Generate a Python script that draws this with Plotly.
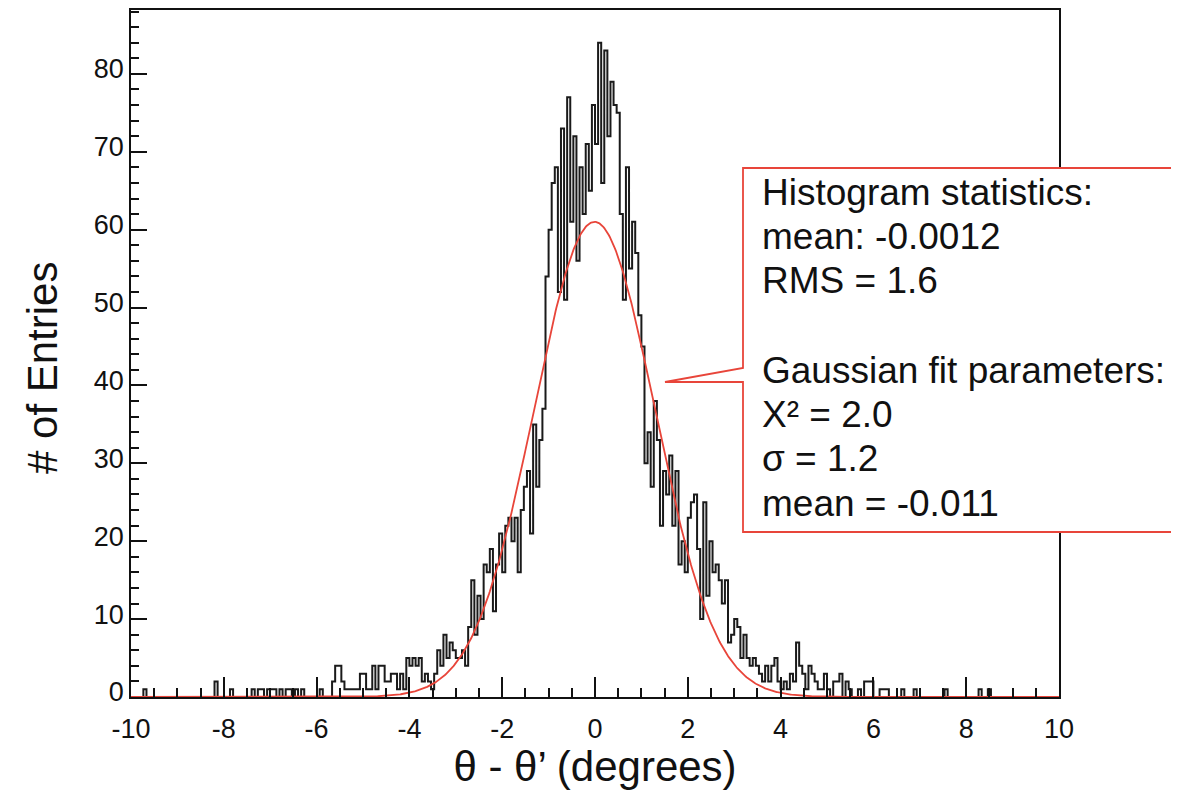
import numpy as np
import plotly.graph_objects as go

# ---------------- data ----------------
x_min, x_max, n_bins = -10.0, 10.0, 300

# bins 85 .. 222 (central part of the histogram)
core_start = 85
core_counts = [
    3, 1, 3, 1, 5, 4, 5, 4, 5, 2, 3, 2, 1, 3, 6, 4, 8, 5, 7, 6,          # 85-104
    5, 5, 6, 4, 9, 15, 8, 13, 10, 17, 16, 19, 11, 17, 21, 16, 22, 23, 20, 23,  # 105-124
    16, 24, 27, 29, 21, 35, 27, 33, 37, 54, 60, 66, 68, 52, 73, 51, 77, 61, 72, 56,  # 125-144
    68, 62, 71, 65, 76, 71, 84, 66, 83, 72, 79, 76, 75, 62, 51, 68, 55, 61, 57, 49,  # 145-164
    45, 30, 34, 27, 38, 33, 22, 29, 26, 31, 22, 29, 17, 20, 16, 23, 25, 26, 19, 10,  # 165-184
    25, 13, 20, 16, 17, 15, 12, 15, 7, 8, 10, 9, 5, 8, 5, 4, 5, 4, 3, 2,  # 185-204
    4, 2, 4, 5, 2, 1, 2, 1, 3, 2, 7, 4, 3, 1, 4, 3, 2, 1,                # 205-222
]

# sparse tails
tail_bins = [4, 27, 32, 39, 41, 42, 44, 45, 46, 48, 50, 51, 53, 55, 61,
             65, 66, 67, 68, 69, 70, 71, 72, 73, 74, 75, 76, 77, 78, 79,
             80, 81, 82, 83, 84,
             223, 224, 225, 227, 228, 229, 231, 232, 235, 237, 238, 239,
             242, 243, 244, 249, 253, 263, 274, 277]
tail_counts = [1, 2, 1, 1, 1, 1, 1, 1, 1, 1, 1, 1, 1, 1, 1,
               2, 4, 4, 2, 1, 1, 1, 1, 1, 3, 3, 1, 1, 4, 1,
               4, 4, 2, 2, 3,
               1, 3, 1, 2, 2, 3, 2, 1, 1, 2, 2, 2,
               1, 1, 1, 1, 1, 1, 1, 1]

# Gaussian fit (as drawn)
fit_amplitude = 61.0
fit_mean = -0.011
fit_sigma = 1.3

x_tick_vals = [-10, -8, -6, -4, -2, 0, 2, 4, 6, 8, 10]
x_tick_text = ["-10", "-8", "-6", "-4", "-2", "0", "2", "4", "6", "8", "10"]
y_tick_vals = [0, 10, 20, 30, 40, 50, 60, 70, 80]
y_tick_text = ["0", "10", "20", "30", "40", "50", "60", "70", "80"]

box_lines = [
    "Histogram statistics:",
    "mean: -0.0012",
    "RMS = 1.6",
    "",
    "Gaussian fit parameters:",
    "X² = 2.0",
    "σ = 1.2",
    "mean = -0.011",
]

x_title = "θ - θ’ (degrees)"
y_title = "# of Entries"

# ---------------- build ----------------
counts = np.zeros(n_bins)
counts[core_start:core_start + len(core_counts)] = core_counts
counts[tail_bins] = tail_counts
edges = np.linspace(x_min, x_max, n_bins + 1)

xf = np.linspace(x_min, x_max, 1201)
yf = fit_amplitude * np.exp(-0.5 * ((xf - fit_mean) / fit_sigma) ** 2)

RED = "#e8453a"
FONT = "Arial, Liberation Sans, sans-serif"

fig = go.Figure()
fig.add_trace(go.Scatter(x=edges, y=np.append(counts, counts[-1]), mode="lines",
                         line=dict(shape="hv", color="#1a1a1a", width=2),
                         hoverinfo="skip", showlegend=False))
fig.add_trace(go.Scatter(x=xf, y=yf, mode="lines",
                         line=dict(color=RED, width=1.8),
                         hoverinfo="skip", showlegend=False))

# page body has an 8px margin, so the figure is drawn 8px smaller / offset
OFF = 8
W, H = 1179 - OFF, 790 - OFF
ml, mt = 131 - OFF, 10 - OFF
mr = 1179 - 1059
mb = 790 - 697
pw, ph = W - ml - mr, H - mt - mb


def px(xp):  # reference-pixel x -> paper
    return (xp - 131) / pw


def py(yp):  # reference-pixel y -> paper
    return (697 - yp) / ph


# callout box
bx0, bx1, by0, by1 = px(743), px(1177), py(532), py(168)
tipx, tipy = px(665), py(382)
base_hi = py(368)
path = (f"M {bx0} {by1} L {bx1} {by1} L {bx1} {by0} L {bx0} {by0} "
        f"L {bx0} {tipy} L {tipx} {tipy} L {bx0} {base_hi} Z")
fig.add_shape(type="path", path=path, xref="paper", yref="paper",
              line=dict(color=RED, width=1.8), fillcolor="white", layer="above")

line_y0, line_dy = 192, 44.5
for i, t in enumerate(box_lines):
    if not t:
        continue
    fig.add_annotation(text=t, xref="paper", yref="paper", x=px(760),
                       y=py(line_y0 + i * line_dy), xanchor="left", yanchor="middle",
                       showarrow=False, font=dict(family=FONT, size=37, color="#111"))

# y-axis title (placed like the reference, slightly below the middle)
fig.add_annotation(text=y_title, xref="paper", yref="paper", x=px(42), y=py(368),
                   xanchor="center", yanchor="middle", textangle=-90, showarrow=False,
                   font=dict(family=FONT, size=42, color="#111"))

axis_common = dict(showline=True, linecolor="#111", linewidth=1.5, mirror=True,
                   ticks="inside", tickcolor="#111", tickwidth=1.5,
                   showgrid=False, zeroline=False,
                   tickfont=dict(family=FONT, size=27, color="#111"))

fig.update_xaxes(range=[x_min, x_max], tickmode="array", tickvals=x_tick_vals,
                 ticktext=x_tick_text, ticklen=20, ticklabelstandoff=7,
                 minor=dict(dtick=0.5, ticklen=9, tickcolor="#111", tickwidth=1.5, ticks="inside"),
                 title=dict(text=x_title, font=dict(family=FONT, size=42, color="#111"), standoff=8),
                 **axis_common)
fig.update_yaxes(range=[0, 88.2], tickmode="array", tickvals=y_tick_vals,
                 ticktext=y_tick_text, ticklen=16, ticklabelshift=-5,
                 minor=dict(dtick=2, ticklen=8, tickcolor="#111", tickwidth=1.5, ticks="inside"),
                 **axis_common)

fig.update_layout(width=W, height=H, margin=dict(l=ml, r=mr, t=mt, b=mb, autoexpand=False),
                  plot_bgcolor="white", paper_bgcolor="white", showlegend=False)

fig.write_html("out.html")
